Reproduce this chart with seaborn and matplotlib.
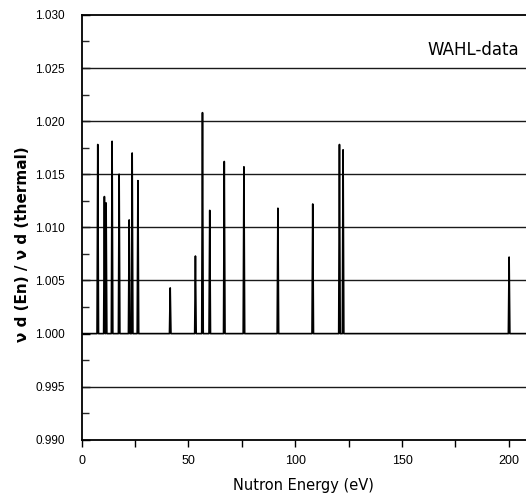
import numpy as np
import pandas as pd
import matplotlib
matplotlib.use("Agg")
import matplotlib.pyplot as plt
from matplotlib.ticker import MultipleLocator, FormatStrFormatter
import seaborn as sns

# Resonance energies (eV) and the ratio nu_d(En)/nu_d(thermal) at each peak
energies = [7.6, 10.7, 11.5, 14.3, 17.6, 22.3, 23.7, 26.4, 41.5, 53.3,
            56.6, 60.0, 66.8, 76.0, 91.9, 108.2, 120.7, 122.4, 200.1]
ratios = [1.0178, 1.0129, 1.0123, 1.0181, 1.0150, 1.0107, 1.0170, 1.0144,
          1.0043, 1.0073, 1.0208, 1.0116, 1.0162, 1.0157, 1.0118, 1.0122,
          1.0178, 1.0173, 1.0072]
baseline = 1.000

x_range = (0, 208)
y_range = (0.990, 1.030)
peak_halfwidth = 0.35

# Assemble the spectrum trace: flat baseline with a narrow peak at each resonance
xs, ys = [x_range[0]], [baseline]
for e, r in zip(energies, ratios):
    xs += [e - peak_halfwidth, e, e + peak_halfwidth]
    ys += [baseline, r, baseline]
xs.append(x_range[1])
ys.append(baseline)
trace = pd.DataFrame({"energy": xs, "ratio": ys, "order": np.arange(len(xs))})

sns.set_theme(style="ticks")
plt.rcParams["font.family"] = ["DejaVu Sans"]
plt.rcParams["text.color"] = "black"
plt.rcParams["axes.labelcolor"] = "black"

fig = plt.figure(figsize=(5.26, 4.97), dpi=100)
ax = fig.add_axes([0.155, 0.115, 0.845, 0.855])

# Horizontal reference lines every 0.005
for yv in np.arange(0.995, 1.0251, 0.005):
    if abs(yv - baseline) > 1e-6:
        ax.axhline(yv, color="#1a1a1a", lw=1.0, zorder=1)

sns.lineplot(data=trace, x="energy", y="ratio", sort=False, estimator=None,
             color="black", lw=1.2, ax=ax, zorder=3)

ax.set_xlim(*x_range)
ax.set_ylim(*y_range)

ax.xaxis.set_major_locator(MultipleLocator(50))
ax.xaxis.set_minor_locator(MultipleLocator(25))
ax.yaxis.set_major_locator(MultipleLocator(0.005))
ax.yaxis.set_minor_locator(MultipleLocator(0.0025))
ax.yaxis.set_major_formatter(FormatStrFormatter("%.3f"))

ax.tick_params(axis="x", which="both", direction="out", length=5, width=1.0,
               labelsize=9, pad=6, colors="black")
ax.tick_params(axis="y", which="major", direction="in", length=6, width=1.0,
               labelsize=8.5, pad=12, colors="black")
ax.tick_params(axis="y", which="minor", direction="in", length=5, width=1.0)
for lab in ax.get_xticklabels() + ax.get_yticklabels():
    lab.set_family("Liberation Sans")

for side in ("left", "bottom", "top"):
    ax.spines[side].set_color("black")
    ax.spines[side].set_linewidth(1.3)
ax.spines["right"].set_visible(False)

ax.set_xlabel("Nutron Energy (eV)", fontsize=10.5, labelpad=8, color="black")
ax.set_ylabel("ν d (En) / ν d (thermal)", fontsize=11, fontweight="bold",
              labelpad=10, color="black")
ax.yaxis.set_label_coords(-0.115, 0.46)

ax.text(0.985, 0.918, "WAHL-data", transform=ax.transAxes, ha="right", va="center",
        fontsize=12, color="black")

fig.savefig("out.png", dpi=100, facecolor="white")
